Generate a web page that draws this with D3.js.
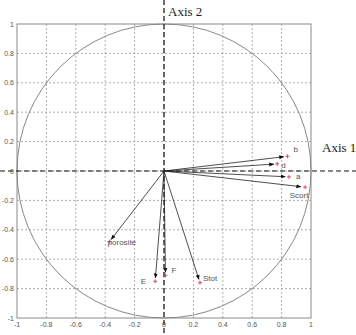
<!DOCTYPE html>
<html>
<head>
<meta charset="utf-8">
<script src="https://cdnjs.cloudflare.com/ajax/libs/d3/7.8.5/d3.min.js"></script>
<style>
body { margin: 0; background: #fff; }
</style>
</head>
<body>
<div id="chart"></div>
<script>
// variables on the correlation circle
var var_names = ['b', 'd', 'a', 'Scort', 'porosité', 'E', 'F', 'Stot'];
var axis1_vals = [0.84, 0.77, 0.85, 0.96, -0.37, -0.06, 0.01, 0.245];
var axis2_vals = [0.10, 0.048, -0.04, -0.11, -0.48, -0.75, -0.71, -0.76];
var tick_vals = [-1, -0.8, -0.6, -0.4, -0.2, 0, 0.2, 0.4, 0.6, 0.8, 1];
// label offsets in px (dx, dy, anchor)
var label_dx = [6, 4, 7, -6, -2, -9, 6, 3];
var label_dy = [-4, 4, 2, 11, 3, 3, -2, -2];
var label_anchor = ['start', 'start', 'start', 'middle', 'start', 'end', 'start', 'start'];

var width = 356;
var height = 335;
var plot_left = 17, plot_right = 311, plot_top = 24, plot_bottom = 318;

var x = d3.scaleLinear().domain([-1, 1]).range([plot_left, plot_right]);
var y = d3.scaleLinear().domain([-1, 1]).range([plot_bottom, plot_top]);

var svg = d3.select('#chart')
  .append('svg')
    .attr('width', width)
    .attr('height', height);

svg.append('defs').append('marker')
    .attr('id', 'arrow')
    .attr('viewBox', '0 0 10 10')
    .attr('refX', 9)
    .attr('refY', 5)
    .attr('markerWidth', 5)
    .attr('markerHeight', 5)
    .attr('markerUnits', 'userSpaceOnUse')
    .attr('orient', 'auto')
  .append('path')
    .attr('d', 'M0,1 L10,5 L0,9 Z')
    .attr('fill', '#111');

// grid lines
svg.append('g')
    .selectAll('line.x-grid')
    .data(tick_vals.slice(1, -1))
  .enter()
    .append('line')
    .attr('stroke', '#999')
    .attr('stroke-width', 0.8)
    .attr('stroke-dasharray', '2,2')
    .attr('x1', function(d) { return x(d); })
    .attr('x2', function(d) { return x(d); })
    .attr('y1', plot_top)
    .attr('y2', plot_bottom);

svg.append('g')
    .selectAll('line.y-grid')
    .data(tick_vals.slice(1, -1))
  .enter()
    .append('line')
    .attr('stroke', '#999')
    .attr('stroke-width', 0.8)
    .attr('stroke-dasharray', '2,2')
    .attr('y1', function(d) { return y(d); })
    .attr('y2', function(d) { return y(d); })
    .attr('x1', plot_left)
    .attr('x2', plot_right);

// frame
svg.append('rect')
    .attr('x', plot_left)
    .attr('y', plot_top)
    .attr('width', plot_right - plot_left)
    .attr('height', plot_bottom - plot_top)
    .attr('fill', 'none')
    .attr('stroke', '#8a8a8a')
    .attr('stroke-width', 1);

// unit circle
svg.append('circle')
    .attr('cx', x(0))
    .attr('cy', y(0))
    .attr('r', x(1) - x(0))
    .attr('fill', 'none')
    .attr('stroke', '#888')
    .attr('stroke-width', 1);

// tick labels
svg.append('g')
    .selectAll('text.y-tick')
    .data(tick_vals)
  .enter()
    .append('text')
    .attr('font-family', 'Arial, Liberation Sans, sans-serif')
    .attr('font-size', '7px')
    .attr('fill', '#555')
    .style('text-anchor', 'end')
    .attr('x', plot_left - 3)
    .attr('y', function(d) { return y(d) + 2.5; })
    .text(function(d) { return d; });

svg.append('g')
    .selectAll('text.x-tick')
    .data(tick_vals)
  .enter()
    .append('text')
    .attr('font-family', 'Arial, Liberation Sans, sans-serif')
    .attr('font-size', '7px')
    .attr('fill', '#555')
    .style('text-anchor', 'middle')
    .attr('x', function(d) { return x(d); })
    .attr('y', plot_bottom + 9)
    .text(function(d) { return d; });

// dashed axes
svg.append('line')
    .attr('x1', 0).attr('x2', width)
    .attr('y1', y(0)).attr('y2', y(0))
    .attr('stroke', '#111')
    .attr('stroke-width', 1.2)
    .attr('stroke-dasharray', '5,3');

svg.append('line')
    .attr('x1', x(0)).attr('x2', x(0))
    .attr('y1', 0).attr('y2', height)
    .attr('stroke', '#111')
    .attr('stroke-width', 1.2)
    .attr('stroke-dasharray', '5,3');

svg.append('text')
    .attr('font-family', 'Liberation Serif, DejaVu Serif, serif')
    .attr('font-size', '13px')
    .attr('fill', '#222')
    .attr('x', x(0) + 4)
    .attr('y', 16)
    .text('Axis 2');

svg.append('text')
    .attr('font-family', 'Liberation Serif, DejaVu Serif, serif')
    .attr('font-size', '13px')
    .attr('fill', '#222')
    .attr('x', 322)
    .attr('y', 152)
    .text('Axis 1');

// vectors
var idx = d3.range(var_names.length);

svg.append('g')
    .selectAll('line.vec')
    .data(idx)
  .enter()
    .append('line')
    .attr('stroke', '#222')
    .attr('stroke-width', 0.8)
    .attr('marker-end', 'url(#arrow)')
    .attr('x1', x(0))
    .attr('y1', y(0))
    .attr('x2', function(i) { return x(axis1_vals[i] * 0.97); })
    .attr('y2', function(i) { return y(axis2_vals[i] * 0.97); });

// red + markers
svg.append('g')
    .selectAll('path.pt')
    .data(idx)
  .enter()
    .append('path')
    .attr('stroke', '#d23a5a')
    .attr('stroke-width', 0.9)
    .attr('d', function(i) {
        var px = x(axis1_vals[i]), py = y(axis2_vals[i]);
        return 'M' + (px - 2) + ',' + py + 'H' + (px + 2) + 'M' + px + ',' + (py - 2) + 'V' + (py + 2);
    });

// labels
svg.append('g')
    .selectAll('text.lbl')
    .data(idx)
  .enter()
    .append('text')
    .attr('font-family', 'Arial, Liberation Sans, sans-serif')
    .attr('font-size', '8px')
    .attr('fill', '#555')
    .style('text-anchor', function(i) { return label_anchor[i]; })
    .attr('x', function(i) { return x(axis1_vals[i]) + label_dx[i]; })
    .attr('y', function(i) { return y(axis2_vals[i]) + label_dy[i]; })
    .text(function(i) { return var_names[i]; });
</script>
</body>
</html>
